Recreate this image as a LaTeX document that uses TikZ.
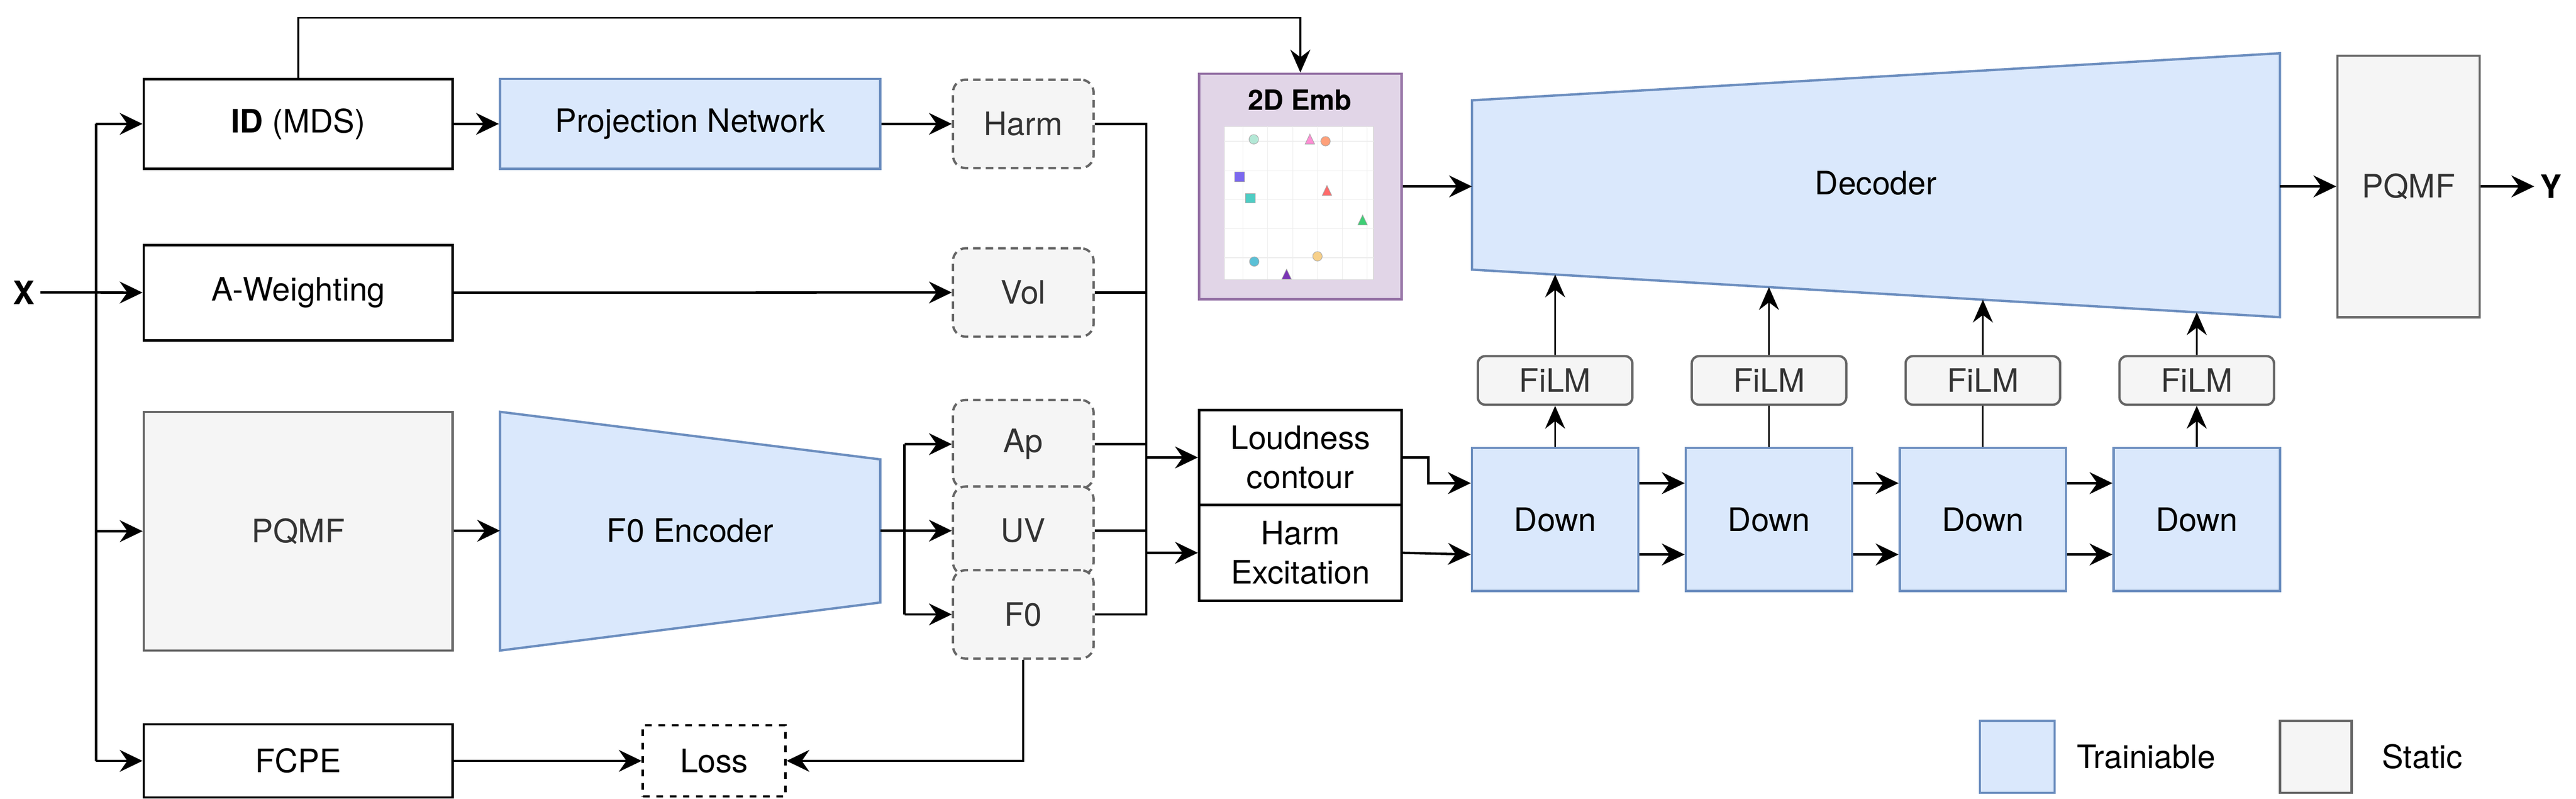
\documentclass[tikz,border=0pt]{standalone}
\usepackage{fontspec}
\setmainfont{TeX Gyre Heros}
\usepackage{tikz}
\usetikzlibrary{arrows.meta}
\usetikzlibrary{calc}
\definecolor{trainfill}{HTML}{DAE8FC}
\definecolor{trainline}{HTML}{6C8EBF}
\definecolor{statfill}{HTML}{F5F5F5}
\definecolor{statline}{HTML}{666666}
\definecolor{stattext}{HTML}{333333}
\definecolor{embfill}{HTML}{E1D5E7}
\definecolor{embline}{HTML}{9673A6}
\definecolor{mA}{HTML}{B3E8D6}
\definecolor{mB}{HTML}{FFA07A}
\definecolor{mC}{HTML}{F7D08A}
\definecolor{mD}{HTML}{5BC0D6}
\definecolor{mE}{HTML}{7B68EE}
\definecolor{mF}{HTML}{4ECDC4}
\definecolor{mG}{HTML}{FF8ED4}
\definecolor{mH}{HTML}{FF6B6B}
\definecolor{mI}{HTML}{3ECF75}
\definecolor{mJ}{HTML}{7B35B5}
\tikzstyle{blk}=[draw=black, line width=1.5pt, fill=white, align=center, inner sep=0pt]
\tikzstyle{trn}=[draw=trainline, fill=trainfill, line width=1.4pt, align=center, inner sep=0pt]
\tikzstyle{stc}=[draw=statline, fill=statfill, text=stattext, line width=1.4pt,
                 align=center, inner sep=0pt]
\tikzstyle{feat}=[stc, dash pattern=on 4.5pt off 3pt, rounded corners=0.27cm,
                  minimum width=2.96cm, minimum height=1.86cm]
\tikzstyle{film}=[stc, rounded corners=0.15cm, minimum width=3.25cm, minimum height=1.02cm]
\tikzstyle{down}=[trn, minimum width=3.5cm, minimum height=3.01cm]
\tikzstyle{arr}=[-{Stealth[length=0.48cm,width=0.46cm,inset=0.16cm]}, line width=1.4pt]
\tikzstyle{tarr}=[-{Stealth[length=0.48cm,width=0.42cm,inset=0.16cm]}, line width=1.0pt]
\tikzstyle{wire}=[line width=1.4pt]

\begin{document}
\begin{tikzpicture}[every node/.style={font=\fontsize{19.3}{23.5}\selectfont}]
    \useasboundingbox (0,0) rectangle (54.2,-16.8);
    \node (X) at (0.5,-6.15) {\bfseries X};
    \node[blk, minimum width=6.5cm, minimum height=1.89cm] (ID) at (6.275,-2.605) {\textbf{ID} (MDS)};
    \node[blk, minimum width=6.5cm, minimum height=2.01cm] (AW) at (6.275,-6.155) {A-Weighting};
    \node[stc, minimum width=6.5cm, minimum height=5.02cm] (PQ) at (6.275,-11.17) {PQMF};
    \node[blk, minimum width=6.5cm, minimum height=1.54cm] (FC) at (6.275,-16.0) {FCPE};
    \node[trn, minimum width=8.0cm, minimum height=1.89cm] (PN) at (14.52,-2.605) {Projection Network};
    \draw[draw=trainline, fill=trainfill, line width=1.4pt] (10.52,-8.66) -- (18.52,-9.66) --
    (18.52,-12.67) -- (10.52,-13.68) -- cycle;
    \node (FE) at (14.52,-11.16) {F0 Encoder};
    \coordinate (FEin) at (10.52,-11.16);
    \coordinate (FEout) at (18.52,-11.16);
    \node[draw=black, fill=white, dash pattern=on 4pt off 4pt, line width=1.4pt, minimum width=3.0cm,
          minimum height=1.5cm] (LS) at (15.025,-16.0) {Loss};
    \node[feat] (HA) at (21.53,-2.605) {Harm};
    \node[feat] (VO) at (21.53,-6.15) {Vol};
    \node[feat] (AP) at (21.53,-9.34) {Ap};
    \node[feat] (UV) at (21.53,-11.16) {UV};
    \node[feat] (F0) at (21.53,-12.92) {F0};
    \node[draw=embline, fill=embfill, line width=1.4pt, minimum width=4.26cm,
          minimum height=4.74cm] (EM) at (27.36,-3.92) {};
    \node[font=\fontsize{16.7}{20}\selectfont\bfseries] (ET) at (27.35,-2.1) {2D Emb};
    \draw[fill=white, draw=black!15, line width=0.4pt] (25.76,-2.66) rectangle (28.90,-5.88);
    \foreach \gx in {26.15,26.67,27.20,27.72,28.24,28.76}
      \draw[black!7, line width=0.4pt] (\gx,-2.66) -- (\gx,-5.88);
    \foreach \gy in {-2.97,-3.59,-4.20,-4.81,-5.42}
      \draw[black!7, line width=0.4pt] (25.76,\gy) -- (28.90,\gy);
    \foreach \mx/\my/\mc in {26.38/-2.93/mA, 27.89/-2.97/mB, 27.72/-5.39/mC, 26.39/-5.50/mD}
      \draw[fill=\mc, draw=black!35, line width=0.3pt] (\mx,\my) circle (0.1);
    \foreach \mx/\my/\mc in {26.08/-3.72/mE, 26.31/-4.17/mF}
      \draw[fill=\mc, draw=black!35, line width=0.3pt] (\mx-0.1,\my-0.1) rectangle (\mx+0.1,\my+0.1);
    \foreach \mx/\my/\mc in {27.56/-2.82/mG, 27.92/-3.90/mH, 28.67/-4.52/mI, 27.07/-5.66/mJ}
      \draw[fill=\mc, draw=black!35, line width=0.3pt] (\mx,\my) -- (\mx+0.1,\my-0.21) --
      (\mx-0.1,\my-0.21) -- cycle;
    \node[blk, minimum width=4.26cm, minimum height=2.0cm] (LC) at (27.36,-9.62) {Loudness\\contour};
    \node[blk, minimum width=4.26cm, minimum height=2.01cm] (HE) at (27.36,-11.625) {Harm\\Excitation};
    \draw[draw=trainline, fill=trainfill, line width=1.4pt] (30.97,-2.11) -- (47.97,-1.12) --
    (47.97,-6.67) -- (30.97,-5.67) -- cycle;
    \node (DE) at (39.47,-3.85) {Decoder};
    \coordinate (DEin) at (30.97,-3.92);
    \coordinate (DEout) at (47.97,-3.92);
    \coordinate (DEbl) at (30.97,-5.67);
    \coordinate (DEbr) at (47.97,-6.67);
    \node[stc, minimum width=2.99cm, minimum height=5.5cm] (PQ2) at (50.675,-3.92) {PQMF};
    \node (Y) at (53.67,-3.92) {\bfseries Y};
    \foreach \i/\x/\t in {1/32.72/0.103, 2/37.22/0.3676, 3/41.72/0.6324, 4/46.22/0.8971} {
      \node[down] (D\i) at (\x,-10.925) {Down};
      \node[film] (F\i) at (\x,-8.0) {FiLM};
      \coordinate (T\i) at ($(DEbl)!\t!(DEbr)$);
      \draw[tarr] (F\i) -- (T\i);
    }
    \draw[tarr] (D1) -- (F1);
    \draw[tarr] (D4) -- (F4);
    \draw[line width=1.0pt] (D2) -- (F2);
    \draw[line width=1.0pt] (D3) -- (F3);
    \foreach \p/\q in {1/2, 2/3, 3/4} {
      \draw[arr] ([yshift=0.765cm]D\p.east) -- ([yshift=0.765cm]D\q.west);
      \draw[arr] ([yshift=-0.735cm]D\p.east) -- ([yshift=-0.735cm]D\q.west);
    }
    \draw[arr] (LC.east) -- ++(0.54,0) |- ([yshift=0.765cm]D1.west);
    \draw[arr] (HE.east) -- ([yshift=-0.735cm]D1.west);
    \coordinate (BB) at (24.12,-12.92);
    \draw[wire] (HA.east) -- (HA.east -| BB) -- (BB) -- (F0.east);
    \foreach \n in {VO, AP, UV}
      \draw[wire] (\n.east) -- (\n.east -| BB);
    \draw[arr] (LC.west -| BB) -- (LC.west);
    \draw[arr] (HE.west -| BB) -- (HE.west);
    \coordinate (BR) at (19.03,-11.16);
    \draw[wire] (FEout) -- (BR);
    \draw[wire] (AP.west -| BR) -- (F0.west -| BR);
    \foreach \n in {AP, UV, F0}
      \draw[arr] (\n.west -| BR) -- (\n.west);
    \draw[arr] (F0.south) |- (LS.east);
    \draw[arr] (FC) -- (LS);
    \coordinate (TR) at (2.02,-6.15);
    \draw[arr] (X) -- (AW);
    \draw[wire] (ID.west -| TR) -- (FC.west -| TR);
    \foreach \n in {ID, PQ, FC}
      \draw[arr] (\n.west -| TR) -- (\n.west);
    \draw[arr] (ID) -- (PN);
    \draw[arr] (PN) -- (HA);
    \draw[arr] (AW) -- (VO);
    \draw[arr] (PQ) -- (FEin);
    \coordinate (TOP) at (27.36,-0.37);
    \draw[tarr] (ID.north) |- (TOP) -- (EM.north);
    \draw[arr] (EM.east) -- (DEin);
    \draw[arr] (DEout) -- (PQ2.west);
    \draw[arr] (PQ2) -- (Y);
    \node[trn, minimum width=1.57cm, minimum height=1.51cm] (LT) at (42.445,-15.915) {};
    \node[anchor=west, inner sep=0pt] (LTt) at (43.69,-15.915) {Trainiable};
    \node[stc, minimum width=1.51cm, minimum height=1.51cm] (LST) at (48.725,-15.915) {};
    \node[anchor=west, inner sep=0pt] (LSTt) at (50.11,-15.915) {Static};
\end{tikzpicture}
\end{document}
